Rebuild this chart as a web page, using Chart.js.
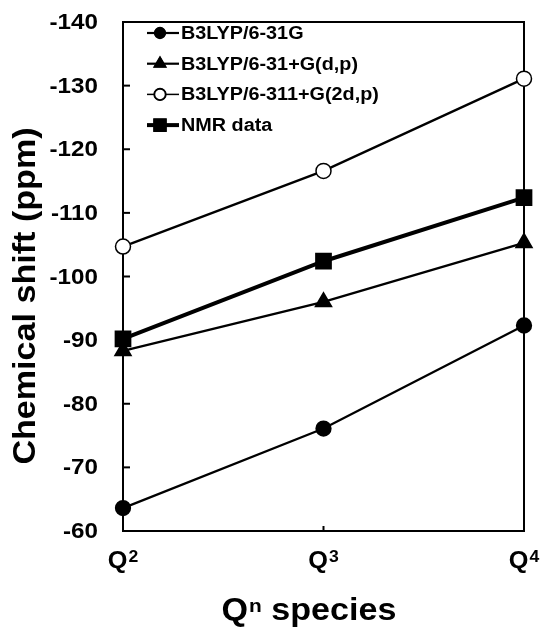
<!DOCTYPE html>
<html>
<head>
<meta charset="utf-8">
<title>Qn species chemical shift</title>
<script src="https://cdn.jsdelivr.net/npm/chart.js"></script>
<style>
  body { margin: 0; background: #fff; }
  canvas { display: block; }
</style>
</head>
<body>
<canvas id="shiftChart" width="540" height="628"></canvas>
<script>
// values
const categories = ['Q2', 'Q3', 'Q4'];
const speciesSup = ['2', '3', '4'];
const seriesLabels = ['B3LYP/6-31G', 'B3LYP/6-31+G(d,p)', 'B3LYP/6-311+G(2d,p)', 'NMR data'];
const b3lyp631G = [-63.6, -76.1, -92.3];
const b3lyp631Gdp = [-88.3, -96.0, -105.3];
const b3lyp6311G2dp = [-104.7, -116.6, -131.1];
const nmrData = [-90.2, -102.4, -112.4];
const yTicks = [-140, -130, -120, -110, -100, -90, -80, -70, -60];

const FONT = '"Liberation Sans", Arial, sans-serif';
const SX = 1.1; // the scanned figure text is a bit wide

function stretchText(ctx, text, x, y, size, align, baseline) {
  ctx.save();
  ctx.font = 'bold ' + size + 'px ' + FONT;
  ctx.textAlign = align || 'left';
  ctx.textBaseline = baseline || 'middle';
  ctx.translate(x, y);
  ctx.scale(SX, 1);
  ctx.fillStyle = '#000';
  ctx.fillText(text, 0, 0);
  ctx.restore();
}

function textWidth(ctx, text, size) {
  ctx.save();
  ctx.font = 'bold ' + size + 'px ' + FONT;
  const w = ctx.measureText(text).width * SX;
  ctx.restore();
  return w;
}

// Q + superscript, centred on cx
function drawQ(ctx, cx, baseY, size, sup, supSize, raise, rest) {
  const wQ = textWidth(ctx, 'Q', size);
  const wS = textWidth(ctx, sup, supSize);
  const wR = rest ? textWidth(ctx, rest, size) : 0;
  let x = cx - (wQ + wS + 1 + wR) / 2;
  stretchText(ctx, 'Q', x, baseY, size, 'left', 'alphabetic');
  x += wQ + 1;
  stretchText(ctx, sup, x, baseY - raise, supSize, 'left', 'alphabetic');
  x += wS;
  if (rest) stretchText(ctx, rest, x, baseY, size, 'left', 'alphabetic');
}

const legendMarks = [
  { style: 'circle', r: 5, fill: '#000', lw: 2.2 },
  { style: 'triangle', r: 6, fill: '#000', lw: 2.2 },
  { style: 'circle', r: 5.5, fill: '#fff', lw: 1.5 },
  { style: 'rect', r: 8, fill: '#000', lw: 4 }
];

const paperPlugin = {
  id: 'paper',
  beforeDatasetsDraw(chart) {
    const { ctx, chartArea: a } = chart;
    ctx.save();
    ctx.strokeStyle = '#000';
    ctx.lineWidth = 2;
    ctx.strokeRect(a.left, a.top, a.right - a.left, a.bottom - a.top);
    // inner tick marks
    const y = chart.scales.y;
    yTicks.forEach(v => {
      const py = y.getPixelForValue(v);
      ctx.beginPath();
      ctx.moveTo(a.left, py);
      ctx.lineTo(a.left + 7, py);
      ctx.stroke();
    });
    const x = chart.scales.x;
    categories.forEach((c, i) => {
      const px = x.getPixelForValue(i);
      ctx.beginPath();
      ctx.moveTo(px, a.bottom);
      ctx.lineTo(px, a.bottom - 5);
      ctx.stroke();
    });
    ctx.restore();
  },
  afterDraw(chart) {
    const { ctx } = chart;
    const y = chart.scales.y;
    const x = chart.scales.x;
    yTicks.forEach(v => {
      stretchText(ctx, String(v), 98, y.getPixelForValue(v) + 1, 22, 'right', 'middle');
    });
    categories.forEach((c, i) => {
      drawQ(ctx, x.getPixelForValue(i), 568, 23, speciesSup[i], 16, 6);
    });
    // axis titles
    drawQ(ctx, 309, 620, 31, 'n', 19, 8, ' species');
    ctx.save();
    ctx.translate(35, 296);
    ctx.rotate(-Math.PI / 2);
    stretchText(ctx, 'Chemical shift (ppm)', 0, 0, 31, 'center', 'alphabetic');
    ctx.restore();

    // legend inside the plot
    chart.data.datasets.forEach((ds, i) => {
      const ly = 33 + i * 30.7;
      const m = legendMarks[i];
      ctx.save();
      ctx.strokeStyle = '#000';
      ctx.lineWidth = m.lw;
      ctx.beginPath();
      ctx.moveTo(147, ly);
      ctx.lineTo(179, ly);
      ctx.stroke();
      ctx.restore();
      Chart.helpers.drawPoint(ctx, {
        pointStyle: m.style, radius: m.r, borderWidth: 1.5,
        rotation: 0
      }, 160, ly);
      ctx.save();
      ctx.fillStyle = m.fill;
      ctx.strokeStyle = '#000';
      ctx.lineWidth = 1.5;
      ctx.fill();
      ctx.stroke();
      ctx.restore();
      stretchText(ctx, ds.label, 181, ly + 1, 18, 'left', 'middle');
    });
  }
};

const ctx = document.getElementById('shiftChart');
new Chart(ctx, {
  type: 'line',
  data: {
    labels: categories,
    datasets: [
      {
        label: seriesLabels[0], data: b3lyp631G,
        borderColor: '#000', borderWidth: 2.3,
        pointStyle: 'circle', pointRadius: 7, pointBackgroundColor: '#000', pointBorderColor: '#000',
        clip: false
      },
      {
        label: seriesLabels[1], data: b3lyp631Gdp,
        borderColor: '#000', borderWidth: 2.3,
        pointStyle: 'triangle', pointRadius: 8.5, pointBackgroundColor: '#000', pointBorderColor: '#000',
        clip: false
      },
      {
        label: seriesLabels[2], data: b3lyp6311G2dp,
        borderColor: '#000', borderWidth: 2.3,
        pointStyle: 'circle', pointRadius: 7.5, pointBorderWidth: 1.5,
        pointBackgroundColor: '#fff', pointBorderColor: '#000',
        clip: false
      },
      {
        label: seriesLabels[3], data: nmrData,
        borderColor: '#000', borderWidth: 4,
        pointStyle: 'rect', pointRadius: 9, pointBackgroundColor: '#000', pointBorderColor: '#000',
        clip: false
      }
    ]
  },
  options: {
    responsive: false,
    animation: false,
    layout: { padding: { left: 0, right: 16, top: 22, bottom: 0 } },
    plugins: { legend: { display: false }, tooltip: { enabled: false } },
    scales: {
      x: {
        type: 'category',
        offset: false,
        grid: { display: false },
        border: { display: false },
        ticks: { display: false },
        afterFit: (scale) => { scale.height = 97; }
      },
      y: {
        reverse: true,
        min: -140,
        max: -60,
        ticks: { display: false, stepSize: 10 },
        grid: { display: false },
        border: { display: false },
        afterFit: (scale) => { scale.width = 123; }
      }
    }
  },
  plugins: [paperPlugin]
});
</script>
</body>
</html>
